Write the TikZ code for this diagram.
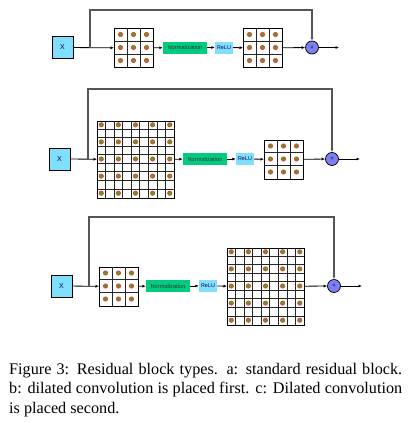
\documentclass[tikz,border=0pt]{standalone}
\usepackage{fontspec}
\setmainfont{Liberation Serif}
\newfontfamily\diagfont{Liberation Sans}
\usetikzlibrary{arrows.meta}
\definecolor{xcyan}{HTML}{80DFFF}
\definecolor{normgreen}{HTML}{00CC80}
\definecolor{sumblue}{HTML}{7F7FF5}
\definecolor{dotred}{HTML}{F04040}
\definecolor{dotgreen}{HTML}{18C018}
\definecolor{linegray}{HTML}{555555}
\tikzset{
  inbox/.style={draw=black, fill=xcyan, line width=0.7pt, minimum width=21pt, minimum height=22pt, inner sep=0pt, font=\diagfont\fontsize{7}{7}\selectfont, text=black!70!blue},
  normbox/.style={fill=normgreen, minimum width=44pt, minimum height=12pt, inner sep=0pt, font=\diagfont\fontsize{5.7}{6}\selectfont, text=black!80},
  relubox/.style={fill=xcyan, minimum width=18pt, minimum height=12pt, inner sep=0pt, font=\diagfont\fontsize{5.4}{6}\selectfont, text=black!70!blue},
  sumnode/.style={circle, draw=black, fill=sumblue, minimum size=13pt, inner sep=0pt, line width=0.7pt, font=\diagfont\fontsize{6}{6}\selectfont},
  gridbox/.style={draw=black, line width=0.8pt, inner sep=0pt, anchor=north west},
  gridline/.style={black!85, line width=0.7pt},
  conn/.style={black, line width=0.8pt, -{Latex[length=3.5pt,width=3pt]}},
  skipline/.style={linegray, line width=1.1pt, -{Latex[length=3.5pt,width=3pt]}},
  capfont/.style={font=\fontsize{16.2}{19.5}\selectfont, anchor=base west, inner sep=0pt},
}
\newcommand\convgrid[6]{%
  \node[gridbox, minimum size=#4pt] (#1) at (#2,#3) {};
  \pgfmathsetmacro\cs{#4/#5}
  \pgfmathtruncatemacro\nm{#5-1}
  \begin{scope}[shift={(#1.north west)}]
    \foreach \k in {1,...,\nm} {
      \draw[gridline] (\k*\cs,0) -- (\k*\cs,#4);
      \draw[gridline] (0,\k*\cs) -- (#4,\k*\cs);
    }
    \foreach \i in {0,#6,...,\nm} {
      \foreach \j in {0,#6,...,\nm} {
        \fill[dotred] ({(\i+0.5)*\cs},{(\j+0.5)*\cs}) circle (2.6pt);
        \fill[dotgreen] ({(\i+0.5)*\cs},{(\j+0.5)*\cs}) circle (1.7pt);
      }
    }
  \end{scope}
}
\begin{document}
\begin{tikzpicture}[x=1pt, y=-1pt]
\useasboundingbox (0,0) rectangle (411,423);
% ---------- row a ----------
\node[inbox] (xa) at (62.5,47.5) {X};
\convgrid{ga1}{114}{28}{39}{3}{1}
\node[normbox] (na) at (185,47.5) {Normalization};
\node[relubox] (ra) at (224,47.5) {ReLU};
\convgrid{ga2}{243}{28}{39}{3}{1}
\node[sumnode] (sa) at (312,47.5) {+};
\coordinate (ba) at (90,47.5);
\coordinate (ta) at (90,10);
\coordinate (oa) at (339,47.5);
\draw[conn] (xa) -- (ga1);
\draw[conn] (ga1) -- (na);
\draw[conn] (na) -- (ra);
\draw[conn] (ra) -- (ga2);
\draw[conn] (ga2) -- (sa);
\draw[conn] (sa) -- (oa);
\draw[skipline] (ba) -- (ta) -| (sa.north);
% ---------- row b ----------
\node[inbox] (xb) at (59.5,159) {X};
\convgrid{gb1}{97}{120.5}{77}{9}{2}
\node[normbox] (nb) at (205,159) {Normalization};
\node[relubox] (rb) at (245,159) {ReLU};
\convgrid{gb2}{264}{139.5}{39}{3}{1}
\node[sumnode] (sb) at (332,159) {+};
\coordinate (bb) at (88,159);
\coordinate (tb) at (88,89);
\coordinate (ob) at (360,159);
\draw[conn] (xb) -- (gb1);
\draw[conn] (gb1) -- (nb);
\draw[conn] (nb) -- (rb);
\draw[conn] (rb) -- (gb2);
\draw[conn] (gb2) -- (sb);
\draw[conn] (sb) -- (ob);
\draw[skipline] (bb) -- (tb) -| (sb.north);
% ---------- row c ----------
\node[inbox] (xc) at (61.5,286) {X};
\convgrid{gc1}{99}{266.5}{39}{3}{1}
\node[normbox] (nc) at (168,286) {Normalization};
\node[relubox] (rc) at (208,286) {ReLU};
\convgrid{gc2}{227}{247.5}{77}{9}{2}
\node[sumnode] (sc) at (334,286) {+};
\coordinate (bc) at (89,286);
\coordinate (tc) at (89,217);
\coordinate (oc) at (362,286);
\draw[conn] (xc) -- (gc1);
\draw[conn] (gc1) -- (nc);
\draw[conn] (nc) -- (rc);
\draw[conn] (rc) -- (gc2);
\draw[conn] (gc2) -- (sc);
\draw[conn] (sc) -- (oc);
\draw[skipline] (bc) -- (tc) -| (sc.north);
% ---------- caption ----------
\node[capfont] (cap1) at (9,374) {\makebox[393pt][s]{Figure 3: Residual block types. a: standard residual block.}};
\node[capfont] (cap2) at (9,393.5) {\makebox[393pt][s]{b: dilated convolution is placed first. c: Dilated convolution}};
\node[capfont] (cap3) at (9,413) {is placed second.};
\end{tikzpicture}
\end{document}
